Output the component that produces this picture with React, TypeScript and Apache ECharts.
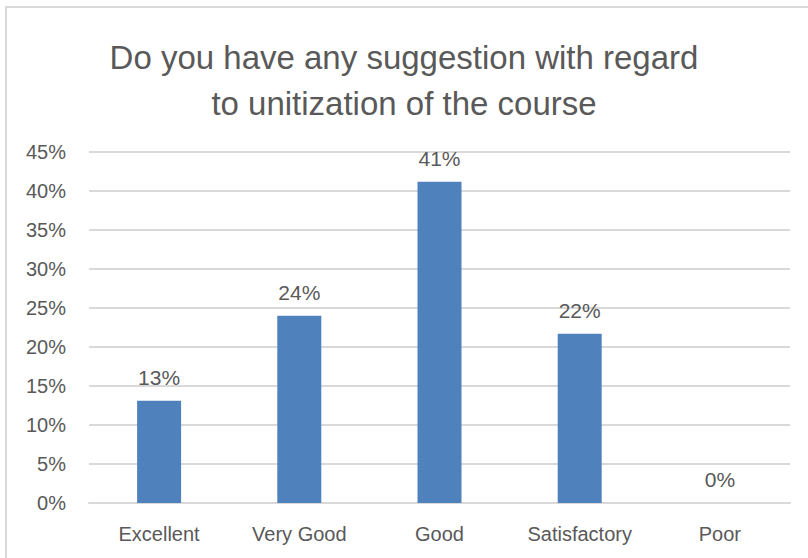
import React, { useEffect, useRef } from "react";
import * as echarts from "echarts";

const titleText = "Do you have any suggestion with regard\nto unitization of the course";
const categories = ["Excellent", "Very Good", "Good", "Satisfactory", "Poor"];
const values = [0.131, 0.24, 0.412, 0.217, 0];
const yTicks = [0, 0.05, 0.1, 0.15, 0.2, 0.25, 0.3, 0.35, 0.4, 0.45];

const FONT = "Liberation Sans";
const TEXT = "#595959";

export default function App() {
  const ref = useRef<HTMLDivElement>(null);
  useEffect(() => {
    if (!ref.current) return;
    const chart = echarts.init(ref.current, undefined, { renderer: "svg" });
    chart.setOption({
      animation: false,
      backgroundColor: "#ffffff",
      graphic: [
        {
          type: "rect",
          shape: { x: 6, y: 7, width: 830, height: 580 },
          style: { fill: "none", stroke: "#d9d9d9", lineWidth: 2 },
          silent: true,
        },
      ],
      title: {
        text: titleText,
        left: "center",
        top: 29,
        textStyle: {
          fontFamily: FONT,
          fontSize: 33,
          fontWeight: "normal",
          color: TEXT,
          lineHeight: 46,
        },
      },
      grid: { left: 89, right: 18, top: 152, bottom: 55 },
      xAxis: {
        type: "category",
        data: categories,
        axisLine: { show: true, lineStyle: { color: "#d9d9d9", width: 2 } },
        axisTick: { show: false },
        axisLabel: {
          interval: 0,
          hideOverlap: false,
          fontFamily: FONT,
          fontSize: 20,
          color: TEXT,
          margin: 21,
        },
      },
      yAxis: {
        type: "value",
        min: yTicks[0],
        max: yTicks[yTicks.length - 1],
        interval: 0.05,
        axisLine: { show: false },
        axisTick: { show: false },
        splitLine: { lineStyle: { color: "#d9d9d9", width: 2 } },
        axisLabel: {
          fontFamily: FONT,
          fontSize: 20,
          color: TEXT,
          margin: 23,
          formatter: (v: number) => `${Math.round(v * 100)}%`,
        },
      },
      series: [
        {
          type: "bar",
          data: values,
          barWidth: 44,
          itemStyle: { color: "#4f81bd" },
          label: {
            show: true,
            position: "top",
            distance: 13,
            fontFamily: FONT,
            fontSize: 21,
            color: TEXT,
            formatter: (p: any) => `${Math.round(p.value * 100)}%`,
          },
        },
      ],
    });
    return () => chart.dispose();
  }, []);
  return (
    <div
      ref={ref}
      style={{ position: "fixed", left: 0, top: 0, width: 808, height: 558 }}
    />
  );
}
